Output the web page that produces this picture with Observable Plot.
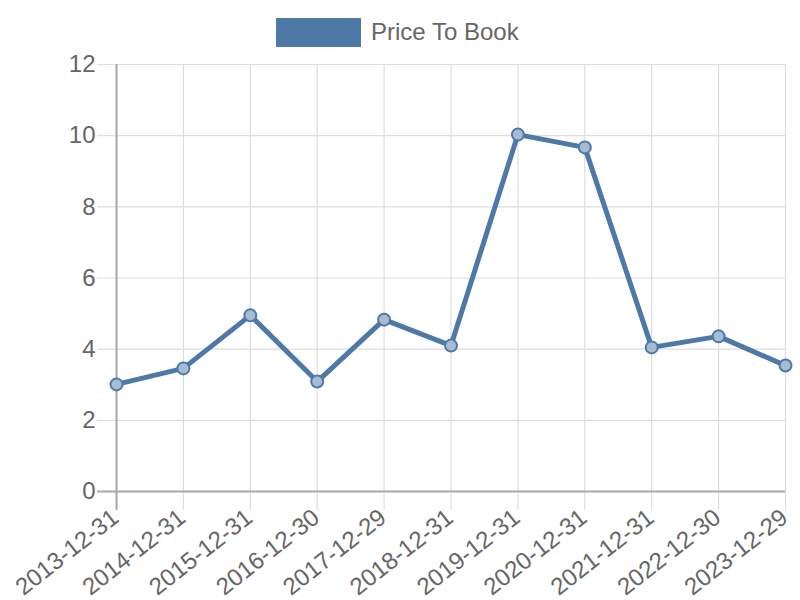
<!DOCTYPE html>
<html>
<head>
<meta charset="utf-8">
<script src="https://cdn.jsdelivr.net/npm/d3@7"></script>
<script src="https://cdn.jsdelivr.net/npm/@observablehq/plot@0.6"></script>
<style>
  body { margin: 0; background: #fff; font-family: "Liberation Sans", Arial, sans-serif; }
  #wrap { position: relative; width: 800px; height: 600px; }
  #legend { position: absolute; left: 276px; top: 17px; display: flex; align-items: center; height: 30px; }
  #legend .sw { width: 85px; height: 29px; background: #4e79a7; }
  #legend .lb { margin-left: 10px; font-size: 24px; color: #666; line-height: 30px; }
</style>
</head>
<body>
<div id="wrap">
  <div id="legend"><div class="sw"></div><div class="lb">Price To Book</div></div>
</div>
<script>
const dates = ["2013-12-31","2014-12-31","2015-12-31","2016-12-30","2017-12-29","2018-12-31","2019-12-31","2020-12-31","2021-12-31","2022-12-30","2023-12-29"];
const priceToBook = [3.01, 3.46, 4.95, 3.09, 4.83, 4.10, 10.03, 9.67, 4.05, 4.36, 3.54];
const yTicks = [0, 2, 4, 6, 8, 10, 12];
const seriesName = "Price To Book";

const data = dates.map((d, i) => ({date: d, value: priceToBook[i]}));
const blue = "#4e79a7";

const chart = Plot.plot({
  width: 800,
  height: 600,
  marginLeft: 116,
  marginRight: 15,
  marginTop: 64,
  marginBottom: 109,
  style: {fontFamily: "'Liberation Sans', Arial, sans-serif", background: "transparent"},
  x: {type: "point", domain: dates, padding: 0, round: false, axis: null},
  y: {domain: [0, 12], axis: null},
  marks: [
    Plot.ruleX(dates, {x: d => d, y1: 12, y2: 0, stroke: "#dedede", strokeWidth: 1.2, strokeOpacity: 1, insetBottom: -19}),
    Plot.ruleY(yTicks, {y: d => d, stroke: "#dedede", strokeWidth: 1.2, strokeOpacity: 1, insetLeft: -19}),
    Plot.ruleY([0], {stroke: "#a8a8a8", strokeWidth: 2, insetLeft: -19}),
    Plot.ruleX([dates[0]], {stroke: "#a8a8a8", strokeWidth: 2, y1: 12, y2: 0, insetBottom: -19}),
    Plot.text(yTicks, {y: d => d, frameAnchor: "left", dx: -21, textAnchor: "end", text: d => String(d), fontSize: 24, fill: "#666"}),
    Plot.text(dates, {x: d => d, frameAnchor: "bottom", dy: 23, dx: -1, rotate: -38, textAnchor: "end", lineAnchor: "middle", text: d => d, fontSize: 24, fill: "#666"}),
    Plot.line(data, {x: "date", y: "value", stroke: blue, strokeWidth: 5, strokeLinejoin: "miter", curve: "linear"}),
    Plot.dot(data, {x: "date", y: "value", r: 6, fill: "#a6bcd3", stroke: blue, strokeWidth: 2})
  ]
});
document.getElementById("wrap").appendChild(chart);
chart.style.position = "absolute";
chart.style.left = "0";
chart.style.top = "0";
</script>
</body>
</html>
